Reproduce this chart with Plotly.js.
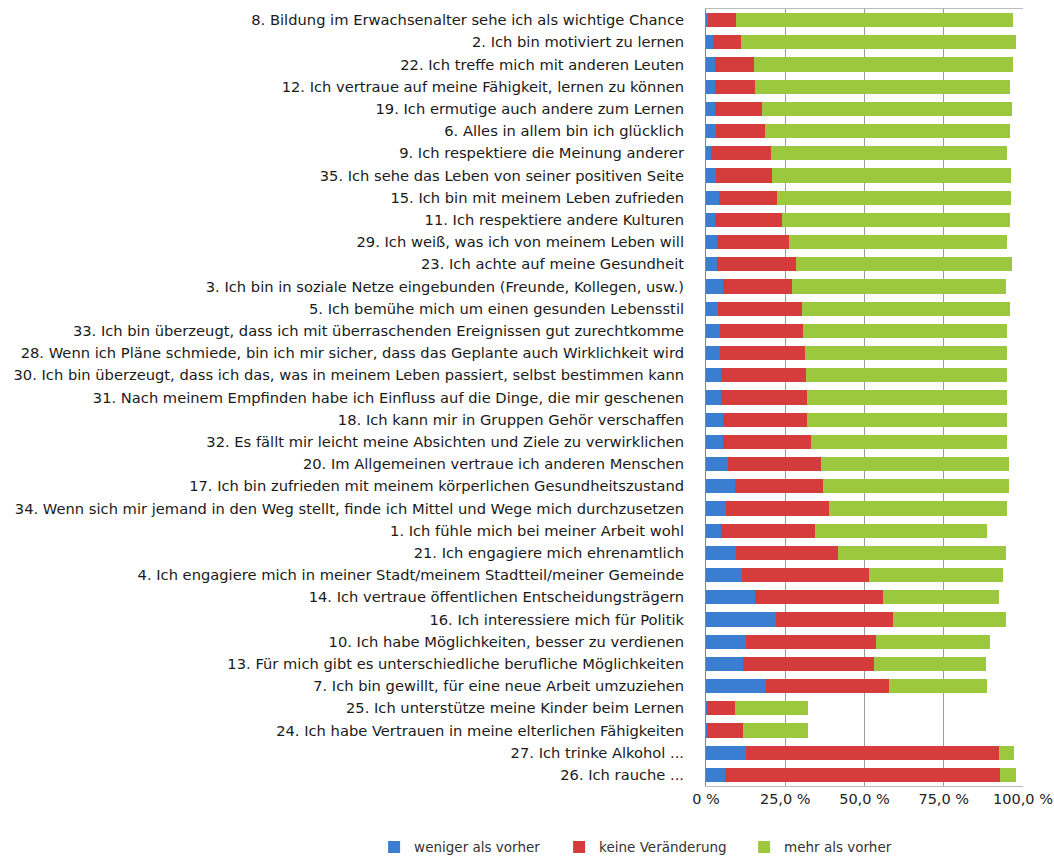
<!DOCTYPE html>
<html><head><meta charset="utf-8">
<script src="https://cdn.plot.ly/plotly-3.0.1.min.js"></script>
<style>html,body{margin:0;padding:0;background:#fff;}#chart{width:1054px;height:859px;}</style>
</head><body><div id="chart"></div>
<script>
const categories = [
"8. Bildung im Erwachsenalter sehe ich als wichtige Chance",
"2. Ich bin motiviert zu lernen",
"22. Ich treffe mich mit anderen Leuten",
"12. Ich vertraue auf meine Fähigkeit, lernen zu können",
"19. Ich ermutige auch andere zum Lernen",
"6. Alles in allem bin ich glücklich",
"9. Ich respektiere die Meinung anderer",
"35. Ich sehe das Leben von seiner positiven Seite",
"15. Ich bin mit meinem Leben zufrieden",
"11. Ich respektiere andere Kulturen",
"29. Ich weiß, was ich von meinem Leben will",
"23. Ich achte auf meine Gesundheit",
"3. Ich bin in soziale Netze eingebunden (Freunde, Kollegen, usw.)",
"5. Ich bemühe mich um einen gesunden Lebensstil",
"33. Ich bin überzeugt, dass ich mit überraschenden Ereignissen gut zurechtkomme",
"28. Wenn ich Pläne schmiede, bin ich mir sicher, dass das Geplante auch Wirklichkeit wird",
"30. Ich bin überzeugt, dass ich das, was in meinem Leben passiert, selbst bestimmen kann",
"31. Nach meinem Empfinden habe ich Einfluss auf die Dinge, die mir geschenen",
"18. Ich kann mir in Gruppen Gehör verschaffen",
"32. Es fällt mir leicht meine Absichten und Ziele zu verwirklichen",
"20. Im Allgemeinen vertraue ich anderen Menschen",
"17. Ich bin zufrieden mit meinem körperlichen Gesundheitszustand",
"34. Wenn sich mir jemand in den Weg stellt, finde ich Mittel und Wege mich durchzusetzen",
"1. Ich fühle mich bei meiner Arbeit wohl",
"21. Ich engagiere mich ehrenamtlich",
"4. Ich engagiere mich in meiner Stadt/meinem Stadtteil/meiner Gemeinde",
"14. Ich vertraue öffentlichen Entscheidungsträgern",
"16. Ich interessiere mich für Politik",
"10. Ich habe Möglichkeiten, besser zu verdienen",
"13. Für mich gibt es unterschiedliche berufliche Möglichkeiten",
"7. Ich bin gewillt, für eine neue Arbeit umzuziehen",
"25. Ich unterstütze meine Kinder beim Lernen",
"24. Ich habe Vertrauen in meine elterlichen Fähigkeiten",
"27. Ich trinke Alkohol ...",
"26. Ich rauche ..."
];
// percentages per segment
const weniger = [0.6,2.3,2.8,2.8,2.8,3.1,1.6,3.1,4.1,2.8,3.4,3.4,5.3,3.9,4.4,4.4,4.6,4.6,5.3,5.5,6.8,9.2,6.2,4.6,9.5,11.3,15.5,22.2,12.6,11.6,18.9,0.4,0.4,12.6,6.0];
const keine =   [8.8,8.8,12.2,12.5,14.8,15.4,18.9,17.7,18.2,21.2,22.7,25.1,21.9,26.4,26.2,26.9,27.0,27.3,26.6,27.6,29.5,27.7,32.5,29.9,32.1,40.1,40.4,36.9,41.1,41.3,38.8,8.8,11.4,79.7,86.7];
const mehr =    [87.3,86.7,81.7,80.7,78.8,77.5,74.4,75.4,74.0,72.0,68.8,68.0,67.4,65.7,64.3,63.8,63.5,63.0,63.0,61.8,59.4,58.8,56.2,54.1,53.0,42.2,36.4,35.5,36.0,35.4,30.8,22.9,20.3,4.8,5.1];
const seriesNames = ["weniger als vorher","keine Veränderung","mehr als vorher"];
const tickVals = [0,25,50,75,100];
const tickText = ["0 %","25,0 %","50,0 %","75,0 %","100,0 %"];

const colors = ["#3b7dd0","#d63c3c","#9cc83e"];
const vals = [weniger, keine, mehr];
const traces = vals.map((v,i)=>({
  type:'bar', orientation:'h', x:v, y:categories, name:seriesNames[i],
  marker:{color:colors[i], line:{width:0}}, hoverinfo:'x+name'
}));

const layout = {
  width:1054, height:859,
  margin:{l:706, r:31, t:9, b:73, autoexpand:false},
  barmode:'stack', bargap:0.36,
  font:{family:'"DejaVu Sans", sans-serif', size:14.7, color:'#1a1a1a'},
  paper_bgcolor:'#fff', plot_bgcolor:'#fff',
  xaxis:{range:[0,100], tickvals:tickVals, ticktext:tickText, showgrid:true, gridcolor:'#9a9a9a', gridwidth:1,
         zeroline:false, showline:true, linecolor:'#bbbbbb', mirror:true, ticks:'', tickfont:{size:14.5, color:'#222'}, fixedrange:true},
  yaxis:{type:'category', categoryorder:'array', categoryarray:categories, autorange:'reversed',
         showline:true, linecolor:'#6a8bb0', ticks:'', ticklabelstandoff:18, tickfont:{size:14.7, color:'#1a1a1a'}, showgrid:false},
  showlegend:true,
  legend:{orientation:'h', xref:'paper', yref:'paper', x:-1.047, y:-0.059, xanchor:'left', yanchor:'top',
          font:{size:13.5, color:'#333'}, entrywidth:140, traceorder:'normal'}
};
Plotly.newPlot('chart', traces, layout, {displayModeBar:false, staticPlot:true});
</script></body></html>
